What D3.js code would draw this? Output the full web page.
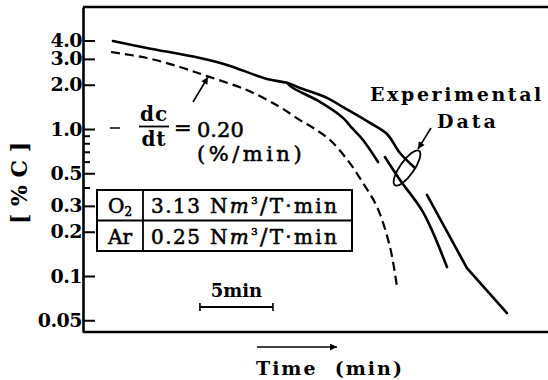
<!DOCTYPE html>
<html>
<head>
<meta charset="utf-8">
<script src="https://cdn.jsdelivr.net/npm/d3@7/dist/d3.min.js"></script>
<style>
  body { margin: 0; background: #fff; }
  svg { display: block; }
  text { font-family: "DejaVu Serif", serif; fill: #000; }
  text.med { stroke: #000; stroke-width: 0.55px; }
</style>
</head>
<body>
<div id="chart"></div>
<script>
// y ticks (log scale, %C)
var yTickValues = [4, 3, 2, 1, 0.5, 0.3, 0.2, 0.1, 0.05];
var yTickLabels = ["4.0", "3.0", "2.0", "1.0", "0.5", "0.3", "0.2", "0.1", "0.05"];
var yMinorTicks = [0.9, 0.8, 0.7, 0.6, 0.4];

// calculated curve, dc/dt = 0.20 %/min  [time (min), %C]
var calcCurve = [[1.92, 3.34], [4.38, 3.04], [6.64, 2.64], [8.49, 2.29], [11.23, 1.84],
  [13.49, 1.41], [14.86, 1.15], [15.89, 1.0], [16.92, 0.842], [18.15, 0.61],
  [19.18, 0.429], [20.14, 0.295], [21.03, 0.157], [21.51, 0.084]];

// experimental data, two heats, each drawn in two pieces
var expHeat1a = [[2.05, 3.97], [4.38, 3.56], [8.01, 3.04], [9.86, 2.73], [12.60, 2.19],
  [13.97, 2.06], [14.86, 1.90], [16.71, 1.63], [17.81, 1.41], [19.66, 1.10],
  [20.82, 0.925], [21.71, 0.687], [22.74, 0.543]];
var expHeat1b = [[23.56, 0.356], [25.14, 0.184], [26.30, 0.113], [29.04, 0.056]];
var expHeat2a = [[13.97, 2.06], [14.38, 1.90], [16.03, 1.57], [17.81, 1.19],
  [18.42, 1.016], [19.18, 0.842], [20.21, 0.596]];
var expHeat2b = [[20.68, 0.645], [21.71, 0.45], [23.29, 0.272], [24.93, 0.115]];

var gasNames = ["O", "Ar"];
var gasSubs = ["2", ""];
var gasFlows = ["3.13", "0.25"];

var scaleBarStart = 8.01, scaleBarMinutes = 5;

var width = 548, height = 380;

var svg = d3.select("#chart").append("svg")
    .attr("width", width)
    .attr("height", height)
;

var x = d3.scaleLinear().domain([0, 31.85]).range([83, 548]);
var y = d3.scaleLog().domain([0.0416, 6.76]).range([332, 7]);

// frame: left axis with inward ticks, top and bottom rules
var yAxis = d3.axisLeft(y)
    .tickValues(yTickValues)
    .tickFormat(function (d, i) { return yTickLabels[i]; })
    .tickSizeInner(-12)
    .tickSizeOuter(0)
    .tickPadding(1)
;
var gAxis = svg.append("g")
    .attr("transform", "translate(" + x(0) + ",0)")
    .call(yAxis)
;
gAxis.select(".domain").attr("stroke", "#000").attr("stroke-width", 2.6);
gAxis.selectAll(".tick line").attr("stroke", "#000").attr("stroke-width", 2);
gAxis.selectAll(".tick text")
    .attr("font-family", "DejaVu Serif")
    .style("font-weight", "bold")
    .attr("font-size", 19)
    .attr("letter-spacing", -0.5)
    .attr("fill", "#000")
;

svg.append("g")
    .attr("transform", "translate(" + x(0) + ",0)")
    .call(d3.axisLeft(y).tickValues(yMinorTicks).tickFormat("").tickSizeInner(-7).tickSizeOuter(0))
    .call(function (g) { g.select(".domain").remove(); })
    .selectAll(".tick line").attr("stroke", "#000").attr("stroke-width", 2)
;

svg.append("line")
    .attr("x1", x(0)).attr("x2", x.range()[1])
    .attr("y1", y.range()[1]).attr("y2", y.range()[1])
    .attr("stroke", "#000").attr("stroke-width", 2.6)
;
svg.append("line")
    .attr("x1", x(0)).attr("x2", x.range()[1])
    .attr("y1", y.range()[0]).attr("y2", y.range()[0])
    .attr("stroke", "#000").attr("stroke-width", 2.4)
;

// curves
var smooth = d3.line()
    .x(function (d) { return x(d[0]); })
    .y(function (d) { return y(d[1]); })
    .curve(d3.curveCatmullRom.alpha(0.5))
;
var straight = d3.line()
    .x(function (d) { return x(d[0]); })
    .y(function (d) { return y(d[1]); })
;

svg.append("path")
    .attr("d", smooth(calcCurve))
    .attr("fill", "none").attr("stroke", "#000").attr("stroke-width", 2.2)
    .attr("stroke-dasharray", "9,5")
;
[expHeat1a, expHeat2a, expHeat2b].forEach(function (s) {
    svg.append("path")
        .attr("d", smooth(s))
        .attr("fill", "none").attr("stroke", "#000").attr("stroke-width", 2.6)
        .attr("stroke-linecap", "round")
    ;
});
svg.append("path")
    .attr("d", straight(expHeat1b))
    .attr("fill", "none").attr("stroke", "#000").attr("stroke-width", 2.6)
    .attr("stroke-linecap", "round").attr("stroke-linejoin", "round")
;

// arrow heads
var defs = svg.append("defs");
defs.append("marker")
    .attr("id", "head")
    .attr("viewBox", "0 0 10 10")
    .attr("refX", 10).attr("refY", 5)
    .attr("markerWidth", 9).attr("markerHeight", 7)
    .attr("markerUnits", "userSpaceOnUse")
    .attr("orient", "auto")
  .append("path")
    .attr("d", "M0,0L10,5L0,10z")
    .attr("fill", "#000")
;

// dc/dt annotation
var ann = svg.append("g");
ann.append("line")
    .attr("x1", 193).attr("y1", 102).attr("x2", 208).attr("y2", 77)
    .attr("stroke", "#000").attr("stroke-width", 1.6)
    .attr("marker-end", "url(#head)")
;
ann.append("line")
    .attr("x1", 110).attr("y1", 128).attr("x2", 120).attr("y2", 128)
    .attr("stroke", "#000").attr("stroke-width", 1.5)
;
ann.append("text").attr("x", 154).attr("y", 121).attr("text-anchor", "middle")
    .style("font-weight", "bold").attr("font-size", 20).attr("letter-spacing", 1).text("dc");
ann.append("line")
    .attr("x1", 139).attr("y1", 126.5).attr("x2", 169).attr("y2", 126.5)
    .attr("stroke", "#000").attr("stroke-width", 1.8)
;
ann.append("text").attr("x", 154).attr("y", 146).attr("text-anchor", "middle")
    .style("font-weight", "bold").attr("font-size", 20).attr("letter-spacing", 1).text("dt");
ann.append("text").attr("class", "med").attr("x", 174).attr("y", 135)
    .attr("font-size", 21).text("=");
ann.append("text").attr("class", "med").attr("x", 197).attr("y", 137)
    .attr("font-size", 21).text("0.20");
ann.append("text").attr("class", "med").attr("x", 197).attr("y", 161)
    .attr("font-size", 21).attr("letter-spacing", 3.5).text("(%/min)");

// experimental data annotation
var exp = svg.append("g");
exp.append("text").attr("x", 370).attr("y", 101)
    .style("font-weight", "bold").attr("font-size", 19).attr("letter-spacing", 2.6).text("Experimental");
exp.append("text").attr("x", 437).attr("y", 128)
    .style("font-weight", "bold").attr("font-size", 19).attr("letter-spacing", 3).text("Data");
exp.append("line")
    .attr("x1", 431).attr("y1", 128).attr("x2", 418).attr("y2", 149)
    .attr("stroke", "#000").attr("stroke-width", 1.6)
    .attr("marker-end", "url(#head)")
;
exp.append("ellipse")
    .attr("cx", 0).attr("cy", 0).attr("rx", 21).attr("ry", 7)
    .attr("transform", "translate(407,168) rotate(-55)")
    .attr("fill", "none").attr("stroke", "#000").attr("stroke-width", 1.8)
;

// gas flow table
var tbl = svg.append("g");
var tx0 = 97, tx1 = 143, tx2 = 352, ty0 = 190, rowH = 30.5;
tbl.append("rect")
    .attr("x", tx0).attr("y", ty0).attr("width", tx2 - tx0).attr("height", rowH * 2)
    .attr("fill", "#fff").attr("stroke", "#000").attr("stroke-width", 2)
;
tbl.append("line").attr("x1", tx0).attr("x2", tx2).attr("y1", ty0 + rowH).attr("y2", ty0 + rowH)
    .attr("stroke", "#000").attr("stroke-width", 1.8);
tbl.append("line").attr("x1", tx1).attr("x2", tx1).attr("y1", ty0).attr("y2", ty0 + rowH * 2)
    .attr("stroke", "#000").attr("stroke-width", 1.8);

gasNames.forEach(function (name, i) {
    var base = ty0 + rowH * i + 23;
    var t = tbl.append("text").attr("class", "med").attr("x", (tx0 + tx1) / 2).attr("y", base)
        .attr("text-anchor", "middle").attr("font-size", 20);
    t.append("tspan").text(name);
    if (gasSubs[i]) t.append("tspan").attr("font-size", 12).attr("dy", 3).text(gasSubs[i]);

    tbl.append("text").attr("class", "med").attr("x", 151).attr("y", base)
        .attr("font-size", 20).attr("letter-spacing", 1.5)
        .text(gasFlows[i]);

    var u = tbl.append("text").attr("class", "med").attr("x", 210).attr("y", base)
        .attr("font-size", 20)
        .attr("textLength", 127).attr("lengthAdjust", "spacing");
    u.append("tspan").text("N");
    u.append("tspan").attr("font-style", "italic").text("m");
    u.append("tspan").attr("font-size", 10).attr("dy", -9).text("3");
    u.append("tspan").attr("dy", 9).attr("font-size", 22).text("/");
    u.append("tspan").text("T·min");
});

// 5 min scale bar
var sb = svg.append("g");
var sbY = 307;
sb.append("line")
    .attr("x1", x(scaleBarStart)).attr("x2", x(scaleBarStart + scaleBarMinutes))
    .attr("y1", sbY).attr("y2", sbY)
    .attr("stroke", "#000").attr("stroke-width", 1.8)
;
[scaleBarStart, scaleBarStart + scaleBarMinutes].forEach(function (t) {
    sb.append("line")
        .attr("x1", x(t)).attr("x2", x(t)).attr("y1", sbY - 4).attr("y2", sbY + 4)
        .attr("stroke", "#000").attr("stroke-width", 1.6);
});
sb.append("text").attr("x", x(scaleBarStart + scaleBarMinutes / 2)).attr("y", 297)
    .attr("text-anchor", "middle").style("font-weight", "bold").attr("font-size", 18).text("5min");

// x title with arrow
svg.append("line")
    .attr("x1", 257).attr("y1", 347).attr("x2", 337).attr("y2", 347)
    .attr("stroke", "#000").attr("stroke-width", 1.6)
    .attr("marker-end", "url(#head)")
;
svg.append("text").attr("x", 256).attr("y", 375)
    .style("font-weight", "bold").attr("font-size", 19).attr("letter-spacing", 2)
    .attr("xml:space", "preserve").text("Time  (min)");

// y title
svg.append("text")
    .attr("transform", "translate(27,183) rotate(-90)")
    .attr("text-anchor", "middle").style("font-weight", "bold").attr("font-size", 22)
    .attr("xml:space", "preserve").text("[ % C ]");
</script>
</body>
</html>
